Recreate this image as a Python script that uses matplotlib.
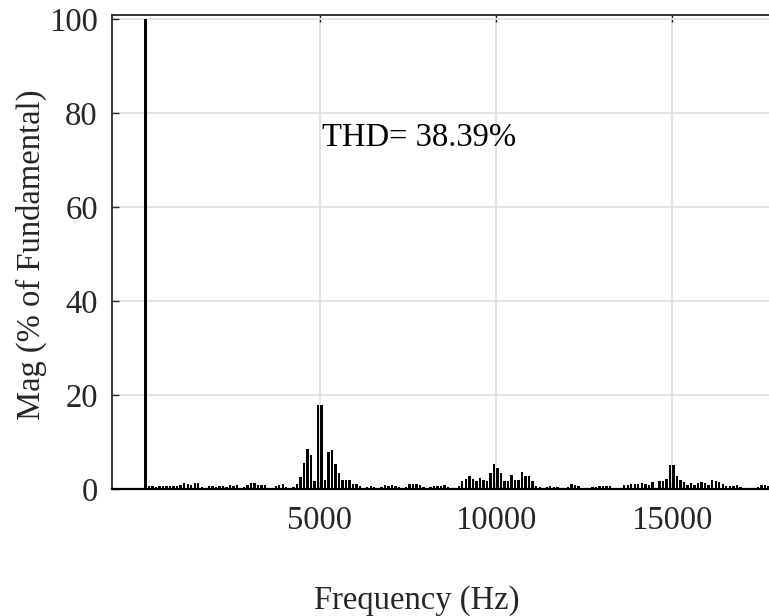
import numpy as np
import matplotlib.pyplot as plt

plt.rcParams['font.family'] = ['Liberation Serif', 'DejaVu Serif']

FONT_SIZE = 23.5

# fundamental (50 Hz) and odd harmonics 150 Hz ... 17750 Hz, step 100 Hz
fund_freq = 50
fund_mag = 100.0
harm_start = 150
harm_step = 100

# magnitudes in % of fundamental
harm_mag = [
    # 150 - 1050
    0.6, 0.6, 0.5, 0.6, 0.6, 0.7, 0.7, 0.6, 0.6, 0.8,
    # 1150 - 2050
    1.2, 1.1, 0.8, 1.3, 1.2, 0.5, 0.2, 0.7, 0.7, 0.4,
    # 2150 - 3050
    0.7, 0.7, 0.4, 0.8, 0.7, 0.9, 0.3, 0.4, 0.9, 1.2,
    # 3150 - 4050
    1.3, 0.9, 0.8, 0.9, 0.3, 0.2, 0.7, 0.9, 1.0, 0.5,
    # 4150 - 5050
    0.2, 0.4, 1.1, 2.6, 5.6, 8.5, 7.3, 1.6, 17.9, 17.9,
    # 5150 - 6050
    2.0, 7.9, 8.4, 5.4, 3.5, 1.9, 1.9, 1.9, 1.1, 1.1,
    # 6150 - 7050
    0.7, 0.3, 0.5, 0.6, 0.5, 0.3, 0.4, 0.85, 0.7, 0.9,
    # 7150 - 8050
    0.7, 0.5, 0.3, 0.35, 1.1, 1.0, 1.0, 0.8, 0.5, 0.2,
    # 8150 - 9050
    0.35, 0.6, 0.6, 0.6, 0.9, 0.35, 0.2, 0.15, 0.6, 1.8,
    # 9150 - 10050
    2.2, 2.8, 2.1, 1.7, 2.3, 2.0, 1.7, 3.3, 5.3, 4.5,
    # 10150 - 11050
    3.3, 1.7, 1.6, 3.0, 2.0, 2.0, 3.7, 2.8, 2.8, 1.6,
    # 11150 - 12050
    0.7, 0.5, 0.3, 0.4, 0.6, 0.4, 0.35, 0.2, 0.2, 0.5,
    # 12150 - 13050
    1.1, 0.85, 0.6, 0.3, 0.15, 0.15, 0.4, 0.35, 0.6, 0.7,
    # 13150 - 14050
    0.7, 0.7, 0.3, 0.3, 0.3, 0.9, 0.85, 1.1, 1.0, 1.1,
    # 14150 - 15050
    1.3, 1.1, 0.9, 1.5, 0.3, 1.8, 1.6, 2.1, 5.2, 5.2,
    # 15150 - 16050
    2.7, 1.9, 1.4, 0.85, 1.3, 0.9, 1.35, 1.5, 1.3, 0.85,
    # 16150 - 17050
    2.0, 1.8, 1.4, 1.0, 0.6, 0.7, 0.7, 0.85, 0.5, 0.2,
    # 17150 - 17750
    0.2, 0.2, 0.2, 0.4, 0.8, 0.8, 0.6,
]

x_ticks = [5000, 10000, 15000]
y_ticks = [0, 20, 40, 60, 80, 100]
thd_text = 'THD= 38.39%'

harm_freq = harm_start + harm_step * np.arange(len(harm_mag))

fig = plt.figure(figsize=(7.69, 6.16), dpi=100)
ax = fig.add_axes([0.1453, 0.2062, 0.8547, 0.7694])

ax.bar(harm_freq, harm_mag, width=68, color='black', linewidth=0, zorder=3)
ax.bar([fund_freq], [fund_mag], width=68, color='black', linewidth=0, zorder=3)

ax.set_xlim(-909, 17764)
ax.set_ylim(0, 100.9)
ax.set_xticks(x_ticks)
ax.set_yticks(y_ticks)

ax.grid(True, color='#e0e0e0', linewidth=1.3, zorder=0)
ax.set_axisbelow(True)

# the right edge of the box falls outside the cropped picture
ax.tick_params(direction='in', length=5, width=1.0, colors='#262626',
               labelsize=FONT_SIZE, top=True, right=False)
ax.tick_params(axis='x', pad=12)
ax.tick_params(axis='y', pad=10)

for side in ['top', 'left']:
    ax.spines[side].set_color('#262626')
    ax.spines[side].set_linewidth(1.3)
ax.spines['right'].set_visible(False)
ax.spines['bottom'].set_color('black')
ax.spines['bottom'].set_linewidth(1.6)

ax.set_xlabel('Frequency (Hz)', fontsize=FONT_SIZE, color='#262626')
ax.set_ylabel('Mag (% of Fundamental)', fontsize=FONT_SIZE, color='#262626')
ax.xaxis.set_label_coords(0.4645, -0.202)
ax.yaxis.set_label_coords(-0.098, 0.494)

ax.text(5065, 73, thd_text, fontsize=FONT_SIZE, color='black',
        ha='left', va='baseline', zorder=4)

fig.savefig('out.png', dpi=100)
